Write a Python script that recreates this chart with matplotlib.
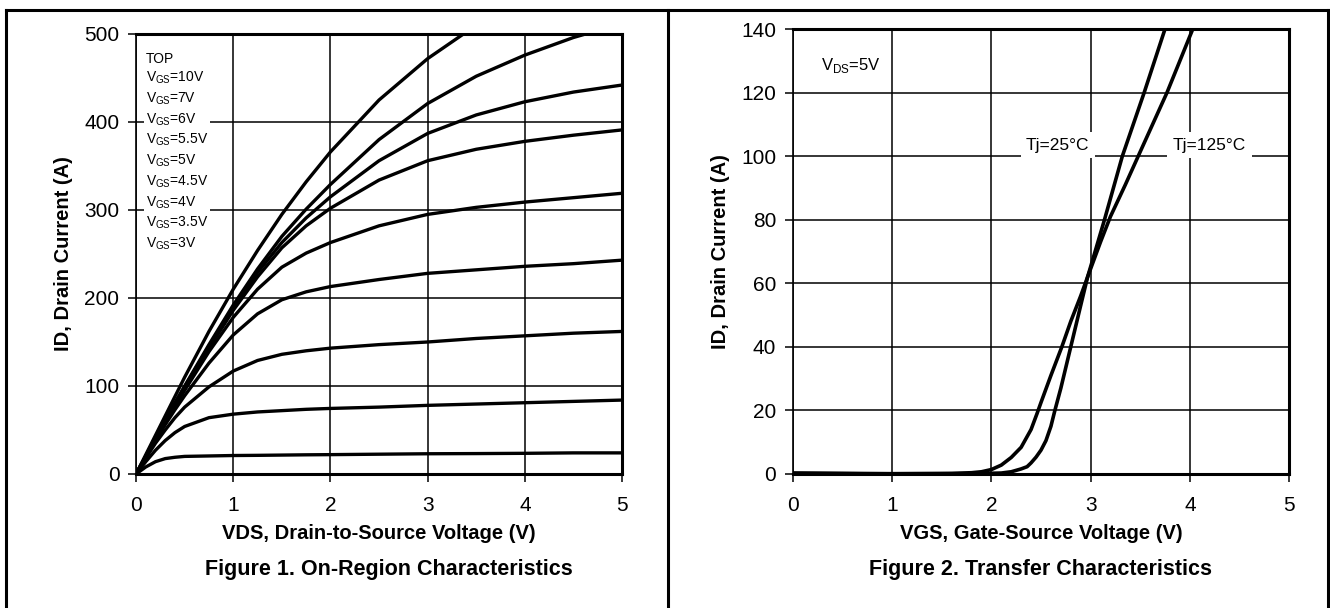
import matplotlib.pyplot as plt
from matplotlib.lines import Line2D

plt.rcParams['font.family'] = ['Liberation Sans', 'DejaVu Sans']

# Figure 1: On-region characteristics, VDS (V) vs ID (A) per VGS
vds = [0, 0.1, 0.2, 0.3, 0.4, 0.5, 0.75, 1.0, 1.25, 1.5, 1.75, 2.0, 2.5, 3.0, 3.5, 4.0, 4.5, 5.0]
id_vgs = {
    '10V': [0, 22, 44, 66, 88, 110, 162, 210, 254, 295, 332, 366, 425, 472, 510, 540, 560, 575],
    '7V': [0, 20, 41, 61, 81, 100, 147, 192, 233, 270, 301, 329, 380, 421, 452, 476, 496, 512],
    '6V': [0, 20, 40, 60, 80, 99, 145, 189, 229, 263, 291, 315, 356, 387, 408, 423, 434, 442],
    '5.5V': [0, 20, 40, 60, 79, 98, 143, 186, 224, 257, 282, 302, 334, 356, 369, 378, 385, 391],
    '5V': [0, 19, 39, 58, 77, 95, 139, 178, 210, 235, 251, 263, 282, 295, 303, 309, 314, 319],
    '4.5V': [0, 19, 38, 56, 73, 89, 126, 158, 182, 198, 207, 213, 221, 228, 232, 236, 239, 243],
    '4V': [0, 18, 35, 50, 64, 76, 99, 117, 129, 136, 140, 143, 147, 150, 154, 157, 160, 162],
    '3.5V': [0, 14, 27, 38, 47, 54, 64, 68, 70.5, 72, 73.5, 74.5, 76, 78, 79.5, 81, 82.5, 84],
    '3V': [0, 8, 14, 17.5, 19, 20, 20.5, 21, 21.2, 21.5, 21.8, 22, 22.5, 23, 23.2, 23.5, 24, 24],
}

# Figure 2: Transfer characteristics, VGS (V) vs ID (A)
vgs_25 = [0, 0.5, 1.0, 1.6, 1.8, 1.9, 2.0, 2.1, 2.2, 2.3, 2.4, 2.46, 2.5, 2.6, 2.71, 2.8, 2.9, 2.97,
          3.14, 3.32, 3.54, 3.75]
id_25 = [0.3, 0.2, 0.1, 0.2, 0.4, 0.7, 1.4, 2.8, 5.2, 8.4, 14, 19, 22.5, 31, 40, 48, 56, 62,
         80, 100, 120, 140]
vgs_125 = [0, 0.5, 1.0, 1.8, 2.1, 2.2, 2.3, 2.36, 2.4, 2.45, 2.5, 2.55, 2.6, 2.64, 2.7, 2.8, 2.9, 2.97,
           3.1, 3.2, 3.35, 3.48, 3.77, 4.03]
id_125 = [0.2, 0.1, 0.0, 0.1, 0.3, 0.7, 1.6, 2.3, 3.5, 5.3, 7.5, 10.5, 15, 20, 27, 40, 53, 62,
          73, 81, 91, 100, 120, 140]

fig = plt.figure(figsize=(13.3, 6.08), dpi=100)
ax1 = fig.add_axes([0.1023, 0.2204, 0.3654, 0.7237])
ax2 = fig.add_axes([0.5962, 0.2204, 0.3730, 0.7319])

for ax in (ax1, ax2):
    ax.set_xlim(0, 5)
    ax.set_xticks(range(6))
    ax.grid(True, color='black', linewidth=1.1)
    ax.set_axisbelow(True)
    ax.tick_params(direction='out', length=6, width=1.1, labelsize=15, pad=6)
    ax.tick_params(axis='x', pad=10)
    for s in ('top', 'right', 'bottom'):
        ax.spines[s].set_linewidth(2.2)
    ax.spines['left'].set_linewidth(1.2)

for k in id_vgs:
    ax1.plot(vds, id_vgs[k], color='black', linewidth=2.4, solid_joinstyle='round')
ax1.set_ylim(0, 500)
ax1.set_yticks(range(0, 501, 100))
ax1.set_xlabel('VDS, Drain-to-Source Voltage (V)', fontsize=14.5, fontweight='bold', labelpad=6)
ax1.set_ylabel('ID, Drain Current (A)', fontsize=14.5, fontweight='bold', labelpad=8)
legend_lines = ['TOP'] + [r'V$_{\mathregular{GS}}$=' + k for k in id_vgs]
ax1.text(0.1, 480, '\n'.join(legend_lines), fontsize=10, va='top', ha='left', linespacing=1.36,
         bbox=dict(facecolor='white', edgecolor='none', pad=1))

ax2.plot(vgs_25, id_25, color='black', linewidth=2.6, solid_joinstyle='round')
ax2.plot(vgs_125, id_125, color='black', linewidth=2.6, solid_joinstyle='round')
ax2.set_ylim(0, 140)
ax2.set_yticks(range(0, 141, 20))
ax2.set_xlabel('VGS, Gate-Source Voltage (V)', fontsize=14.5, fontweight='bold', labelpad=6)
ax2.set_ylabel('ID, Drain Current (A)', fontsize=14.5, fontweight='bold', labelpad=8)
ax2.text(0.28, 128.5, r'V$_{\mathregular{DS}}$=5V', fontsize=12, va='center', ha='left',
         bbox=dict(facecolor='white', edgecolor='none', pad=4))
ax2.text(2.67, 103.5, 'Tj=25°C', fontsize=12.5, va='center', ha='center',
         bbox=dict(facecolor='white', edgecolor='none', pad=4))
ax2.text(4.2, 103.5, 'Tj=125°C', fontsize=12.5, va='center', ha='center',
         bbox=dict(facecolor='white', edgecolor='none', pad=4))

fig.text(0.2926, 1 - 570 / 608, 'Figure 1. On-Region Characteristics', fontsize=15.5,
         fontweight='bold', ha='center', va='center')
fig.text(0.7827, 1 - 570 / 608, 'Figure 2. Transfer Characteristics', fontsize=15.5,
         fontweight='bold', ha='center', va='center')

# table-style frame around the two figures
frame = dict(color='black', linewidth=2.2, transform=fig.transFigure)
fig.add_artist(Line2D([6 / 1330, 1328 / 1330], [1 - 10 / 608, 1 - 10 / 608], **frame))
fig.add_artist(Line2D([6 / 1330, 6 / 1330], [0, 1 - 10 / 608], **frame))
fig.add_artist(Line2D([668 / 1330, 668 / 1330], [0, 1 - 10 / 608], **frame))
fig.add_artist(Line2D([1328 / 1330, 1328 / 1330], [0, 1 - 10 / 608], **frame))

fig.savefig('out.png', dpi=100)
